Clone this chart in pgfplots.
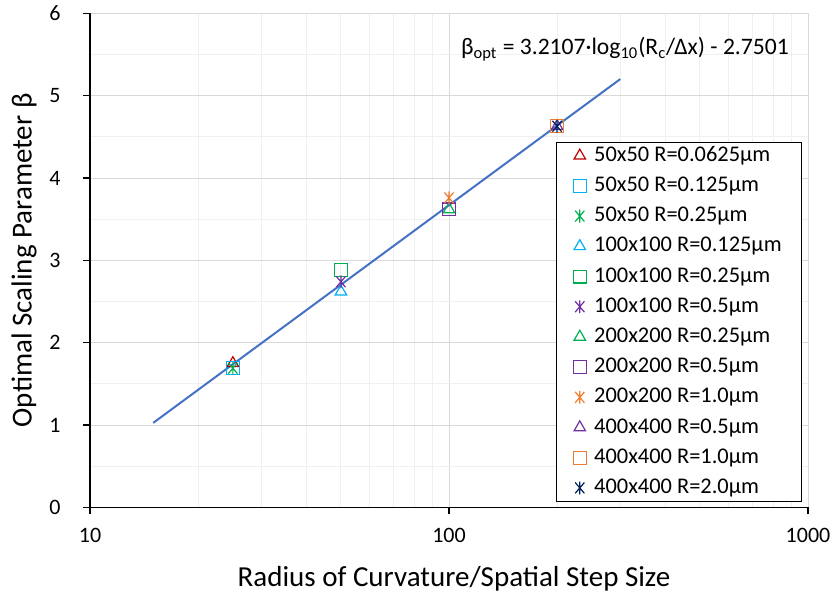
\documentclass[border=0pt]{standalone}
\usepackage{fontspec}
\setmainfont{Carlito}
\usepackage{pgfplots}
\pgfplotsset{compat=1.18}
\definecolor{cRed}{HTML}{C00000}
\definecolor{cCyan}{HTML}{00B0F0}
\definecolor{cGreen}{HTML}{00B050}
\definecolor{cPurple}{HTML}{7030A0}
\definecolor{cOrange}{HTML}{ED7D31}
\definecolor{cNavy}{HTML}{002060}
\definecolor{cTrend}{HTML}{4472C4}
\definecolor{gridMajor}{HTML}{D9D9D9}
\definecolor{gridMinor}{HTML}{F0F0F0}
\pgfdeclareplotmark{xstar}{%
  \pgfpathmoveto{\pgfqpoint{0pt}{\pgfplotmarksize}}%
  \pgfpathlineto{\pgfqpoint{0pt}{-\pgfplotmarksize}}%
  \pgfpathmoveto{\pgfqpoint{-0.72\pgfplotmarksize}{0.85\pgfplotmarksize}}%
  \pgfpathlineto{\pgfqpoint{0.72\pgfplotmarksize}{-0.85\pgfplotmarksize}}%
  \pgfpathmoveto{\pgfqpoint{-0.72\pgfplotmarksize}{-0.85\pgfplotmarksize}}%
  \pgfpathlineto{\pgfqpoint{0.72\pgfplotmarksize}{0.85\pgfplotmarksize}}%
  \pgfusepathqstroke}
\begin{document}
\begin{tikzpicture}
\begin{axis}[
  scale only axis,
  width=359pt, height=246.9pt,
  xmode=log,
  xmin=10, xmax=1000, ymin=0, ymax=6,
  xtick={10,100,1000}, xticklabels={10,100,1000},
  minor xtick={20,30,40,50,60,70,80,90,200,300,400,500,600,700,800,900},
  ytick={0,1,2,3,4,5,6},
  minor ytick={0.5,1.5,2.5,3.5,4.5,5.5},
  grid=both,
  major grid style={gridMajor, line width=0.5pt},
  minor grid style={gridMinor, line width=0.5pt},
  axis lines*=left,
  axis line style={-, black, line width=0.6pt},
  tick align=outside,
  major tick length=3.5pt,
  minor tick length=0pt,
  tick style={black, line width=0.6pt},
  /pgf/number format/assume math mode=true,
  ticklabel style={font=\fontsize{11}{13}\selectfont},
  xticklabel style={anchor=center, yshift=-10.75pt},
  yticklabel style={anchor=east, inner sep=0pt, xshift=-11pt},
  xlabel={Radius of Curvature/Spatial Step Size},
  ylabel={Optimal Scaling Parameter β},
  label style={font=\fontsize{14.5}{17}\selectfont},
  xlabel style={at={(axis description cs:0.507,-0.1438)}, anchor=center},
  ylabel style={at={(axis description cs:-0.0919,0.5)}, anchor=center, rotate=0},
  legend cell align=left,
  legend style={at={(rel axis cs:0.992,0.0107)}, anchor=south east,
    draw=black, line width=0.6pt, fill=white,
    font=\fontsize{11.2}{13}\selectfont,
    inner xsep=8.5pt, inner ysep=1.5pt, row sep=4.6pt,
    nodes={text height=8pt, text depth=2.5pt, inner xsep=1.5pt, inner ysep=0pt},
    /tikz/every odd column/.append style={column sep=2.5pt}},
  every axis plot/.append style={only marks, mark options={line width=0.6pt, fill=none}},
]
\addplot[cRed, mark=triangle, mark size=3.3pt] coordinates {(25,1.75)};
\addlegendentry{50x50 R=0.0625µm}
\addplot[cCyan, mark=square, mark size=3.2pt] coordinates {(25,1.69)};
\addlegendentry{50x50 R=0.125µm}
\addplot[cGreen, mark=xstar, mark size=3.2pt] coordinates {(25,1.69)};
\addlegendentry{50x50 R=0.25µm}
\addplot[cCyan, mark=triangle, mark size=3.3pt] coordinates {(50,2.62)};
\addlegendentry{100x100 R=0.125µm}
\addplot[cGreen, mark=square, mark size=3.2pt] coordinates {(50,2.88)};
\addlegendentry{100x100 R=0.25µm}
\addplot[cPurple, mark=xstar, mark size=3.2pt] coordinates {(50,2.74)};
\addlegendentry{100x100 R=0.5µm}
\addplot[cGreen, mark=triangle, mark size=3.3pt] coordinates {(100,3.62)};
\addlegendentry{200x200 R=0.25µm}
\addplot[cPurple, mark=square, mark size=3.2pt] coordinates {(100,3.62)};
\addlegendentry{200x200 R=0.5µm}
\addplot[cOrange, mark=xstar, mark size=3.2pt] coordinates {(100,3.76)};
\addlegendentry{200x200 R=1.0µm}
\addplot[cPurple, mark=triangle, mark size=3.3pt] coordinates {(200,4.63)};
\addlegendentry{400x400 R=0.5µm}
\addplot[cOrange, mark=square, mark size=3.2pt] coordinates {(200,4.63)};
\addlegendentry{400x400 R=1.0µm}
\addplot[cNavy, mark=xstar, mark size=3.2pt] coordinates {(200,4.63)};
\addlegendentry{400x400 R=2.0µm}
\addplot[cTrend, line width=1pt, no marks, sharp plot, forget plot] coordinates {(15,1.0259) (300,5.2032)};
\node[font=\fontsize{11.8}{14}\selectfont, anchor=center] at (rel axis cs:0.745,0.928)
  {β\textsubscript{opt} = 3.2107·log\textsubscript{10}(R\textsubscript{c}/Δx) - 2.7501};
\end{axis}
\pgfresetboundingbox
\path (-45pt,-43.85pt) rectangle (372.5pt,253.65pt);
\end{tikzpicture}
\end{document}
